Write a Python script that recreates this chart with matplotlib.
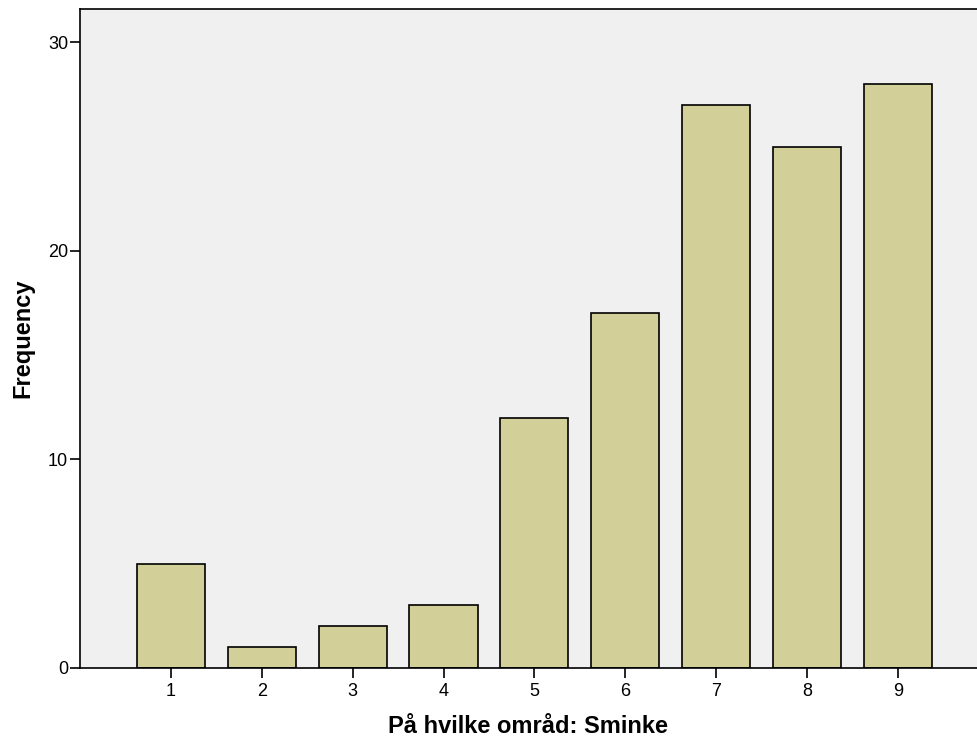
import matplotlib.pyplot as plt

categories = [1, 2, 3, 4, 5, 6, 7, 8, 9]
counts = [5, 1, 2, 3, 12, 17, 27, 25, 28]
yticks = [0, 10, 20, 30]

plt.rcParams['font.family'] = ['Liberation Sans', 'DejaVu Sans']

fig = plt.figure(figsize=(9.77, 7.42), dpi=100)
ax = fig.add_axes([80 / 977, 74 / 742, 1 - 80 / 977, (668 - 9) / 742])
ax.set_facecolor('#f0f0f0')

ax.bar(categories, counts, width=0.75, color='#d3cf98', edgecolor='black', linewidth=1.2, zorder=2)

ax.set_xlim(0, 9.87)
ax.set_ylim(0, 31.6)
ax.set_xticks(categories)
ax.set_yticks(yticks)
ax.tick_params(direction='out', length=7.5, width=1.2, labelsize=13, colors='black')
ax.tick_params(axis='y', pad=1)
ax.tick_params(axis='x', pad=3)

for side in ['left', 'bottom', 'top']:
    ax.spines[side].set_linewidth(1.2)
ax.spines['right'].set_visible(False)

ax.set_xlabel('På hvilke områd: Sminke', fontsize=17, fontweight='bold', labelpad=11)
ax.set_ylabel('Frequency', fontsize=17, fontweight='bold', labelpad=10)

plt.savefig('out.png', dpi=100)
